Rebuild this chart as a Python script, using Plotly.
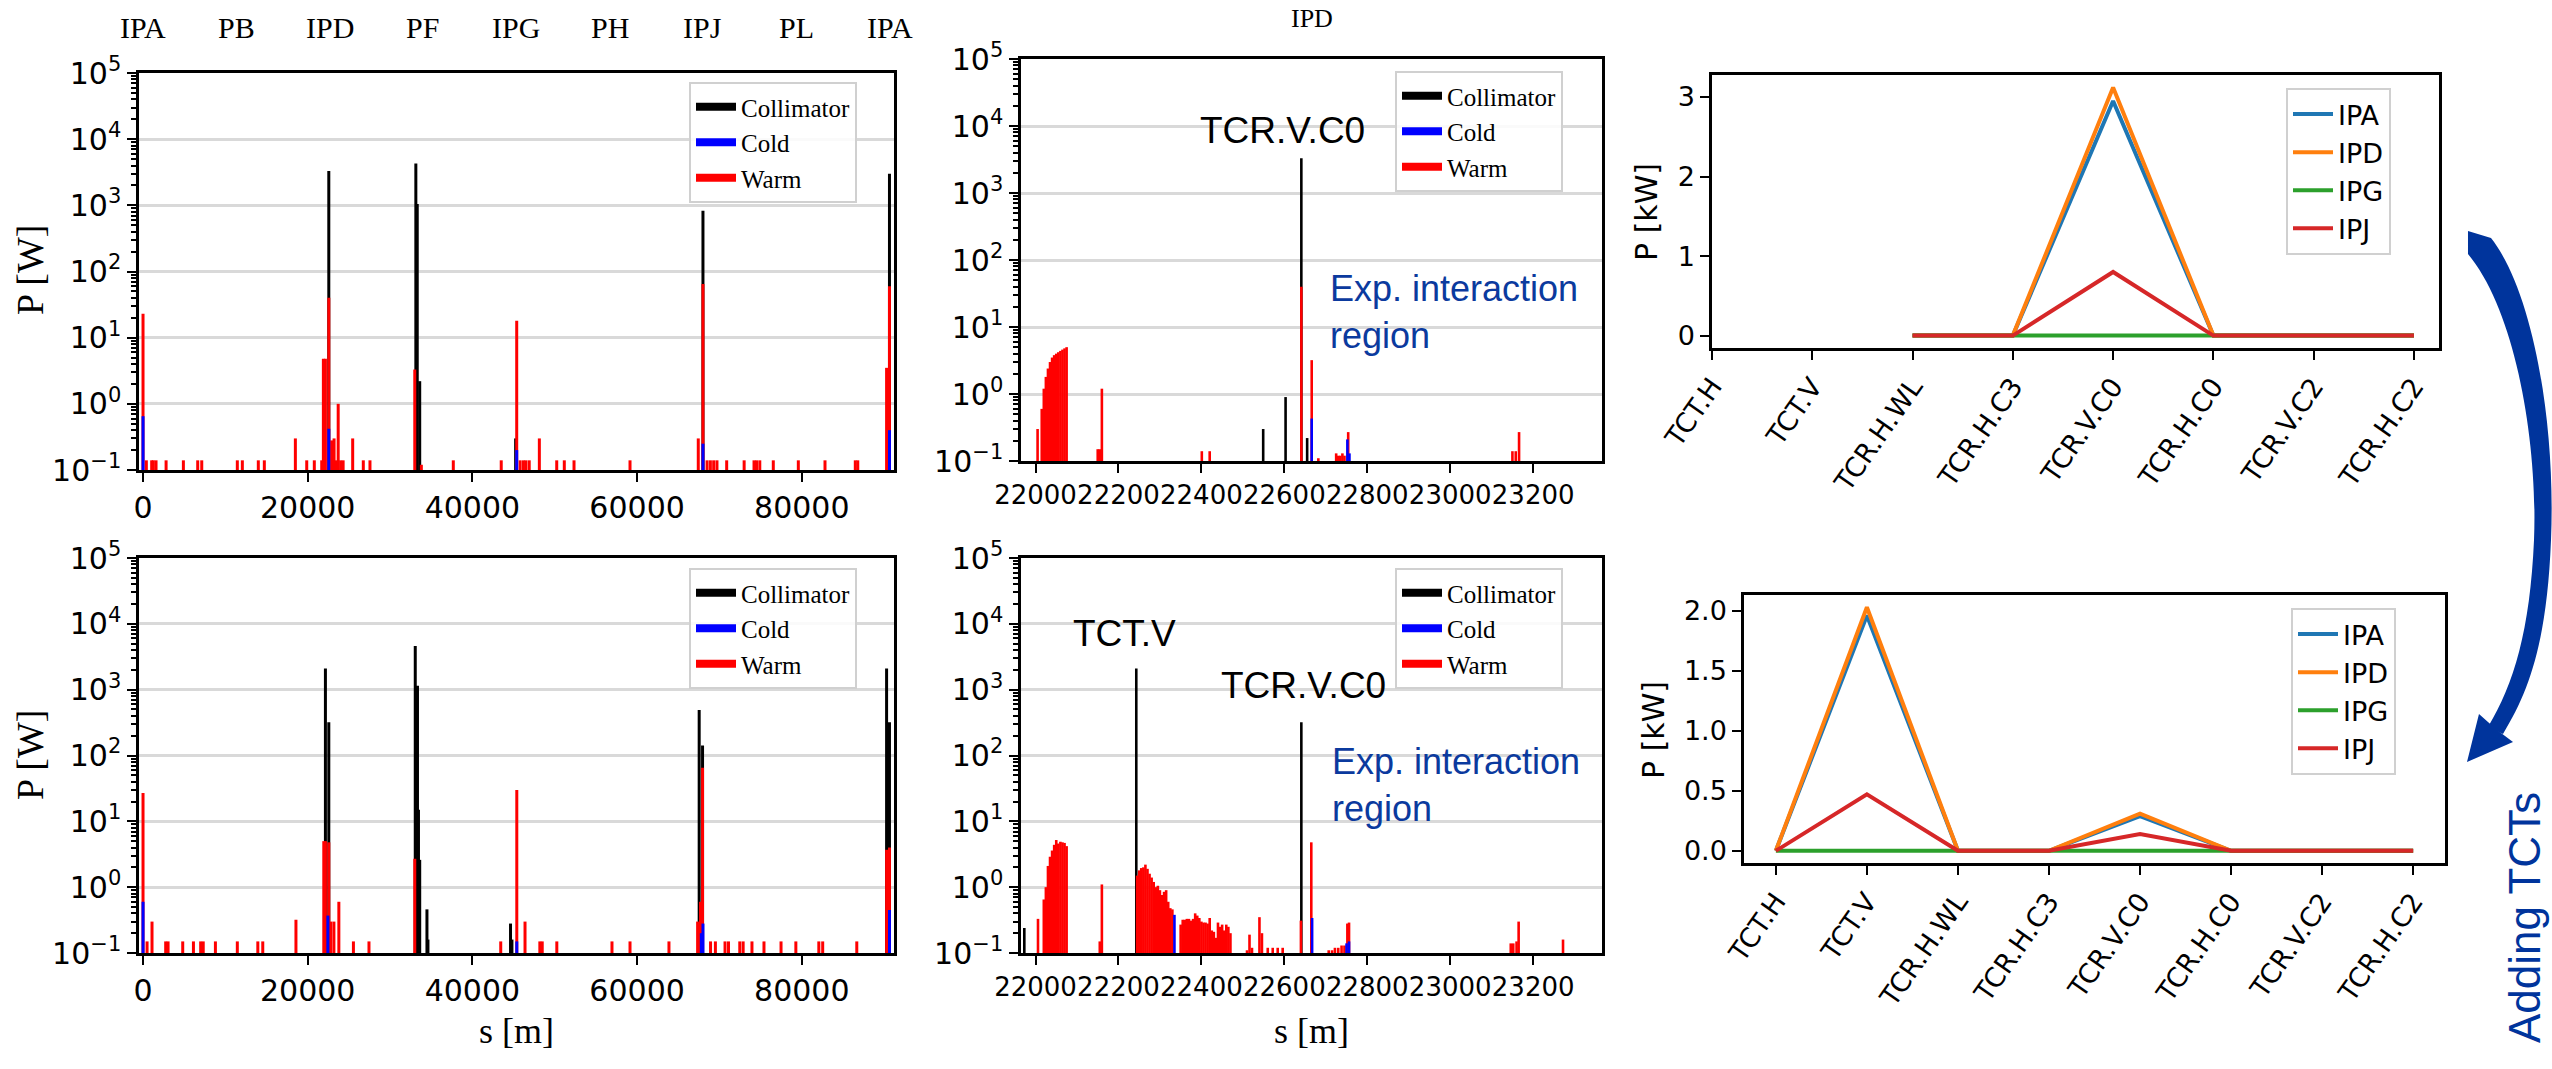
import plotly.graph_objects as go

W, H = 2552, 1069

# ---------------- data ----------------
ring_ip_labels = ["IPA", "PB", "IPD", "PF", "IPG", "PH", "IPJ", "PL", "IPA"]
ring_ip_s = [0, 11332, 22665, 33997, 45329, 56662, 67994, 79326, 90659]

# full ring, without TCTs (top-left)
ring1_coll_s = [22560, 33130, 33300, 33600, 45250, 68000, 90650]
ring1_coll_p = [3300, 4300, 1050, 2.2, 0.3, 830, 3000]
ring1_warm_s = [0, 400, 1050, 1250, 1580, 2800, 4900, 6640, 7130, 11450, 12060, 14000, 14730,
                18500, 19880, 20800, 21700, 21900, 22150, 22560, 22900, 23200, 23450, 23700,
                24000, 24300, 25460, 26750, 27560, 33000, 33800, 37680, 43500, 45380, 45800,
                46200, 46500, 46900, 48130, 50240, 51160, 52340, 59140, 67430, 68000, 68500,
                68900, 69300, 69700, 70880, 73000, 74200, 74500, 74900, 76540, 79580, 82820,
                86500, 86800, 90300, 90650]
ring1_warm_p = [23, 0.14, 0.14, 0.14, 0.14, 0.14, 0.14, 0.14, 0.14, 0.14, 0.14, 0.14, 0.14,
                0.3, 0.14, 0.14, 0.14, 4.8, 4.8, 40, 0.28, 0.3, 0.14, 1.0,
                0.14, 0.14, 0.3, 0.14, 0.14, 3.3, 0.12, 0.14, 0.14, 18, 0.14,
                0.14, 0.14, 0.14, 0.3, 0.14, 0.14, 0.14, 0.14, 0.3, 65, 0.14,
                0.14, 0.14, 0.14, 0.14, 0.14, 0.14, 0.14, 0.14, 0.14, 0.14, 0.14,
                0.14, 0.14, 3.5, 60]
ring1_cold_s = [0, 22560, 45380, 68000, 90650]
ring1_cold_p = [0.65, 0.42, 0.2, 0.25, 0.4]

# full ring, with TCTs (bottom-left)
ring2_coll_s = [22150, 22560, 33060, 33330, 33450, 33600, 34480, 34600, 44630, 44800,
                67540, 67950, 90300, 90650]
ring2_coll_p = [2100, 320, 4600, 1150, 15, 2.6, 0.46, 0.16, 0.28, 0.16,
                490, 142, 2100, 320]
ring2_warm_s = [0, 490, 1090, 2750, 3040, 4820, 6120, 7000, 7310, 8790, 11450, 13940, 14540,
                18570, 21950, 22150, 22560, 22800, 23180, 23780, 25550, 27440, 33000, 43440,
                45390, 46390, 48190, 48480, 50250, 56950, 59140, 63870, 67350, 67700, 67950,
                68920, 69510, 70680, 71100, 72470, 72880, 73950, 75410, 77480, 79280, 82070,
                82540, 86680, 90300, 90650]
ring2_warm_p = [27, 0.15, 0.3, 0.15, 0.15, 0.15, 0.15, 0.15, 0.15, 0.15, 0.15, 0.15, 0.15,
                0.32, 5.0, 5.0, 4.8, 0.3, 0.3, 0.6, 0.15, 0.15, 2.7, 0.15,
                30, 0.3, 0.15, 0.15, 0.15, 0.15, 0.15, 0.15, 0.3, 0.6, 65,
                0.15, 0.15, 0.15, 0.15, 0.15, 0.15, 0.15, 0.15, 0.15, 0.15, 0.15,
                0.15, 0.15, 3.7, 4.0]
ring2_cold_s = [0, 22450, 45390, 67800, 68000, 90650]
ring2_cold_p = [0.6, 0.37, 0.15, 0.2, 0.28, 0.45]

# IPD zoom, without TCTs (top-middle)
ipd1_coll_s = [22549, 22603, 22641, 22655]
ipd1_coll_p = [0.3, 0.9, 3300, 0.22]
ipd1_warm_s = [22005, 22015, 22020, 22025, 22030, 22035, 22040, 22045, 22050, 22055, 22060,
               22065, 22070, 22075, 22150, 22155, 22160, 22401, 22420, 22641, 22666, 22682,
               22725, 22730, 22735, 22740, 22745, 22754, 23150, 23158, 23166]
ipd1_warm_p = [0.3, 0.6, 1.2, 1.8, 2.4, 3.0, 3.5, 3.8, 4.0, 4.2, 4.4,
               4.6, 4.8, 5.0, 0.15, 0.15, 1.2, 0.14, 0.14, 40, 3.2, 0.11,
               0.13, 0.12, 0.12, 0.13, 0.12, 0.27, 0.14, 0.14, 0.27]
ipd1_cold_s = [22666, 22752, 22757]
ipd1_cold_p = [0.43, 0.21, 0.13]

# IPD zoom, with TCTs (bottom-middle)
ipd2_coll_s = [21973, 22243, 22641]
ipd2_coll_p = [0.24, 2100, 320]
ipd2_warm_s = [22006, 22020, 22025, 22030, 22035, 22040, 22045, 22050, 22055, 22060, 22065,
               22070, 22075, 22155, 22160,
               22245, 22250, 22255, 22260, 22265, 22270, 22275, 22280, 22285, 22290, 22295,
               22300, 22305, 22310, 22315, 22320, 22325, 22330,
               22350, 22355, 22360, 22365, 22370, 22375, 22380, 22385, 22390, 22395, 22400,
               22405, 22410, 22415, 22420, 22425, 22430, 22435, 22440, 22445, 22450, 22455,
               22460, 22465, 22470,
               22510, 22516, 22522, 22540, 22546, 22560, 22572, 22584, 22596, 22640, 22665,
               22707, 22715, 22722, 22730, 22738, 22745, 22752, 22756, 23146, 23152, 23160,
               23165, 23272]
ipd2_warm_p = [0.33, 0.65, 1.0, 2.1, 2.9, 3.6, 4.4, 5.2, 4.6, 4.9, 4.8,
               4.7, 4.2, 0.15, 1.1,
               1.5, 1.8, 1.95, 2.0, 2.2, 1.9, 1.6, 1.4, 1.2, 1.0, 1.05,
               0.9, 0.76, 0.85, 0.9, 0.6, 0.48, 0.46,
               0.27, 0.32, 0.32, 0.33, 0.33, 0.31, 0.33, 0.40, 0.37, 0.34, 0.30,
               0.29, 0.29, 0.28, 0.34, 0.22, 0.21, 0.17, 0.29, 0.25, 0.27, 0.22,
               0.27, 0.25, 0.20,
               0.11, 0.19, 0.12, 0.35, 0.2, 0.12, 0.12, 0.12, 0.12, 0.31, 4.8,
               0.11, 0.11, 0.12, 0.12, 0.13, 0.13, 0.28, 0.29, 0.14, 0.14, 0.15,
               0.3, 0.16]
ipd2_cold_s = [22335, 22667, 22750, 22756]
ipd2_cold_p = [0.38, 0.34, 0.14, 0.15]

# log-axis tick labels
log_tick_vals = [0.1, 1, 10, 100, 1000, 10000, 100000]
log_tick_text = ["10<sup>\u22121</sup>", "10<sup>0</sup>", "10<sup>1</sup>", "10<sup>2</sup>",
                 "10<sup>3</sup>", "10<sup>4</sup>", "10<sup>5</sup>"]

# power per collimator family [kW]
collimators = ["TCT.H", "TCT.V", "TCR.H.WL", "TCR.H.C3", "TCR.V.C0", "TCR.H.C0", "TCR.V.C2", "TCR.H.C2"]
ips = ["IPA", "IPD", "IPG", "IPJ"]
ip_colors = ["#1f77b4", "#ff7f0e", "#2ca02c", "#d62728"]
kw_no_tct = {
    "IPA": [None, None, 0, 0, 2.95, 0, 0, 0],
    "IPD": [None, None, 0, 0, 3.12, 0, 0, 0],
    "IPG": [None, None, 0, 0, 0, 0, 0, 0],
    "IPJ": [None, None, 0, 0, 0.80, 0, 0, 0],
}
kw_tct = {
    "IPA": [0, 1.96, 0, 0, 0.29, 0, 0, 0],
    "IPD": [0, 2.03, 0, 0, 0.31, 0, 0, 0],
    "IPG": [0, 0, 0, 0, 0, 0, 0, 0],
    "IPJ": [0, 0.47, 0, 0, 0.14, 0, 0, 0],
}

# ---------------- helpers ----------------
SANS = "DejaVu Sans"
SERIF = "Liberation Serif"
ARIAL = "Liberation Sans"
BLUE_TXT = "#0b3a9e"
ARROW_BLUE = "#00349c"
CAT_COLORS = {"Collimator": "black", "Cold": "#0000ff", "Warm": "#ff0000"}


def px_x(x):
    return x / W


def px_y(y):
    return 1 - y / H


def spikes(s, p, floor=1e-3):
    xs, ys = [], []
    for a, b in zip(s, p):
        xs += [a, a, None]
        ys += [floor, b, None]
    return xs, ys


fig = go.Figure()


def add_loss_panel(xa, ya, leg, coll, warm, cold, lw):
    for name, (s, p) in [("Collimator", coll), ("Warm", warm), ("Cold", cold)]:
        xs, ys = spikes(s, p)
        fig.add_trace(go.Scatter(x=xs, y=ys, mode="lines", xaxis=xa, yaxis=ya,
                                 line=dict(color=CAT_COLORS[name], width=lw),
                                 showlegend=False, hoverinfo="skip"))
    for rank, name in enumerate(["Collimator", "Cold", "Warm"]):
        fig.add_trace(go.Scatter(x=[None], y=[None], mode="lines", xaxis=xa, yaxis=ya,
                                 name=name, legend=leg, legendrank=rank + 1,
                                 line=dict(color=CAT_COLORS[name], width=8)))


add_loss_panel("x", "y", "legend", (ring1_coll_s, ring1_coll_p), (ring1_warm_s, ring1_warm_p),
               (ring1_cold_s, ring1_cold_p), 3)
add_loss_panel("x2", "y2", "legend2", (ipd1_coll_s, ipd1_coll_p), (ipd1_warm_s, ipd1_warm_p),
               (ipd1_cold_s, ipd1_cold_p), 2.6)
add_loss_panel("x4", "y4", "legend4", (ring2_coll_s, ring2_coll_p), (ring2_warm_s, ring2_warm_p),
               (ring2_cold_s, ring2_cold_p), 3)
add_loss_panel("x5", "y5", "legend5", (ipd2_coll_s, ipd2_coll_p), (ipd2_warm_s, ipd2_warm_p),
               (ipd2_cold_s, ipd2_cold_p), 2.6)

for xa, ya, leg, data in [("x3", "y3", "legend3", kw_no_tct), ("x6", "y6", "legend6", kw_tct)]:
    for ip, col in zip(ips, ip_colors):
        fig.add_trace(go.Scatter(x=collimators, y=data[ip], mode="lines", name=ip,
                                 xaxis=xa, yaxis=ya, legend=leg,
                                 line=dict(color=col, width=4)))


# ---------------- axes ----------------
def dom_x(a, b):
    return [px_x(a), px_x(b)]


def dom_y(top, bottom):
    return [px_y(bottom), px_y(top)]


frame = dict(showline=True, linecolor="black", linewidth=2.5, mirror=True, zeroline=False,
             ticks="outside", ticklen=9, tickwidth=2, tickcolor="black", automargin=False)
TICK_FONT = dict(family=SANS, size=30, color="black")
RIGHT_TICK_FONT = dict(family=SANS, size=27, color="black")


def log_y(domain, anchor):
    return dict(domain=domain, anchor=anchor, type="log", range=[-1, 5],
                tickvals=log_tick_vals, ticktext=log_tick_text,
                showgrid=True, gridcolor="#d9d9d9", gridwidth=2.5,
                minor=dict(ticks="outside", ticklen=5, tickwidth=1.5, tickcolor="black",
                           dtick="D1", showgrid=False),
                tickfont=TICK_FONT, **frame)


def s_x(domain, anchor, rng, vals, size):
    return dict(domain=domain, anchor=anchor, range=rng, tickvals=vals, tickformat="d",
                tickangle=0, showgrid=False,
                tickfont=dict(family=SANS, size=size, color="black"), **frame)


ring_ticks = [0, 20000, 40000, 60000, 80000]
ipd_ticks = [22000, 22200, 22400, 22600, 22800, 23000, 23200]

fig.update_layout(
    xaxis=s_x(dom_x(139, 894), "y", [-490, 91200], ring_ticks, 30),
    yaxis=log_y(dom_y(73, 470), "x"),
    xaxis2=s_x(dom_x(1021, 1602), "y2", [21965, 23366], ipd_ticks, 26),
    yaxis2=log_y(dom_y(59, 461), "x2"),
    xaxis4=s_x(dom_x(139, 894), "y4", [-490, 91200], ring_ticks, 30),
    yaxis4=log_y(dom_y(558, 953), "x4"),
    xaxis5=s_x(dom_x(1021, 1602), "y5", [21965, 23366], ipd_ticks, 26),
    yaxis5=log_y(dom_y(558, 953), "x5"),
    xaxis3=dict(domain=dom_x(1712, 2439), anchor="y3", type="category",
                categoryorder="array", categoryarray=collimators, range=[0, 7.25],
                tickangle=-55, showgrid=False, tickfont=RIGHT_TICK_FONT, **frame),
    yaxis3=dict(domain=dom_y(75, 348), anchor="x3", range=[-0.156, 3.276], tickvals=[0, 1, 2, 3],
                showgrid=False, tickfont=RIGHT_TICK_FONT, **frame),
    xaxis6=dict(domain=dom_x(1744, 2445), anchor="y6", type="category",
                categoryorder="array", categoryarray=collimators, range=[-0.35, 7.35],
                tickangle=-55, showgrid=False, tickfont=RIGHT_TICK_FONT, **frame),
    yaxis6=dict(domain=dom_y(595, 863), anchor="x6", range=[-0.1015, 2.1315],
                tickvals=[0, 0.5, 1.0, 1.5, 2.0], tickformat=".1f",
                showgrid=False, tickfont=RIGHT_TICK_FONT, **frame),
)


def legend_box(x, y, family, size, iw):
    return dict(x=px_x(x), y=px_y(y), xanchor="left", yanchor="top",
                bgcolor="rgba(255,255,255,0.85)", bordercolor="#d0d0d0", borderwidth=2,
                font=dict(family=family, size=size, color="black"), tracegroupgap=0,
                itemwidth=iw)


fig.update_layout(
    legend=legend_box(689, 82, SERIF, 25, 40),
    legend2=legend_box(1395, 71, SERIF, 25, 40),
    legend4=legend_box(689, 568, SERIF, 25, 40),
    legend5=legend_box(1395, 568, SERIF, 25, 40),
    legend3=legend_box(2286, 88, SANS, 27, 40),
    legend6=legend_box(2291, 608, SANS, 27, 40),
)

# ---------------- annotations ----------------
C = dict(xanchor="center", yanchor="middle", showarrow=False)
ann = []
for lab, s in zip(ring_ip_labels, ring_ip_s):
    ann.append(dict(x=s, y=px_y(28), xref="x", yref="paper", text=lab,
                    font=dict(family=SERIF, size=30, color="black"), **C))
ann.append(dict(x=0.5, y=px_y(18), xref="x2 domain", yref="paper", text="IPD",
                font=dict(family=SERIF, size=26, color="black"), **C))
for yc in (270, 755):
    ann.append(dict(x=px_x(30), y=px_y(yc), xref="paper", yref="paper", text="P [W]", textangle=-90,
                    font=dict(family=SERIF, size=38, color="black"), **C))
for xc in (516, 1311):
    ann.append(dict(x=px_x(xc), y=px_y(1031), xref="paper", yref="paper", text="s [m]",
                    font=dict(family=SERIF, size=36, color="black"), **C))
for xc, yc in ((1647, 212), (1653, 730)):
    ann.append(dict(x=px_x(xc), y=px_y(yc), xref="paper", yref="paper", text="P [kW]", textangle=-90,
                    font=dict(family=SANS, size=30, color="black"), **C))

lab_font = dict(family=ARIAL, size=37, color="black")
ann.append(dict(x=22596, y=3.93, xref="x2", yref="y2", text="TCR.V.C0", font=lab_font, **C))
ann.append(dict(x=22215, y=3.86, xref="x5", yref="y5", text="TCT.V", font=lab_font, **C))
ann.append(dict(x=22647, y=3.07, xref="x5", yref="y5", text="TCR.V.C0", font=lab_font, **C))
exp_font = dict(family=ARIAL, size=36, color=BLUE_TXT)
ann.append(dict(x=22705, y=1.22, xref="x2", yref="y2", text="Exp. interaction<br>region", align="left",
                xanchor="left", yanchor="middle", showarrow=False, font=exp_font))
ann.append(dict(x=22710, y=1.55, xref="x5", yref="y5", text="Exp. interaction<br>region", align="left",
                xanchor="left", yanchor="middle", showarrow=False, font=exp_font))
ann.append(dict(x=px_x(2524), y=px_y(918), xref="paper", yref="paper", text="Adding TCTs", textangle=-90,
                font=dict(family=ARIAL, size=44, color=ARROW_BLUE), **C))
fig.update_layout(annotations=ann)


# ---------------- curved arrow ----------------
def P(x, y):
    return f"{px_x(x):.5f},{px_y(y):.5f}"


shaft = (f"M{P(2468,231)} L{P(2491,238)} C{P(2532,290)} {P(2556,420)} {P(2551,540)} "
         f"C{P(2547,640)} {P(2530,690)} {P(2503,734)} L{P(2488,727)} "
         f"C{P(2514,684)} {P(2530,630)} {P(2534,540)} C{P(2538,440)} {P(2515,310)} {P(2468,254)} Z")
head = f"M{P(2467,762)} L{P(2513,742)} L{P(2497,730)} L{P(2479,714)} Z"
fig.update_layout(shapes=[
    dict(type="path", xref="paper", yref="paper", path=shaft, fillcolor=ARROW_BLUE, line=dict(width=0)),
    dict(type="path", xref="paper", yref="paper", path=head, fillcolor=ARROW_BLUE, line=dict(width=0)),
])

fig.update_layout(width=W, height=H, margin=dict(l=0, r=0, t=0, b=0, autoexpand=False),
                  paper_bgcolor="white", plot_bgcolor="white", showlegend=True)

fig.write_html("out.html")
